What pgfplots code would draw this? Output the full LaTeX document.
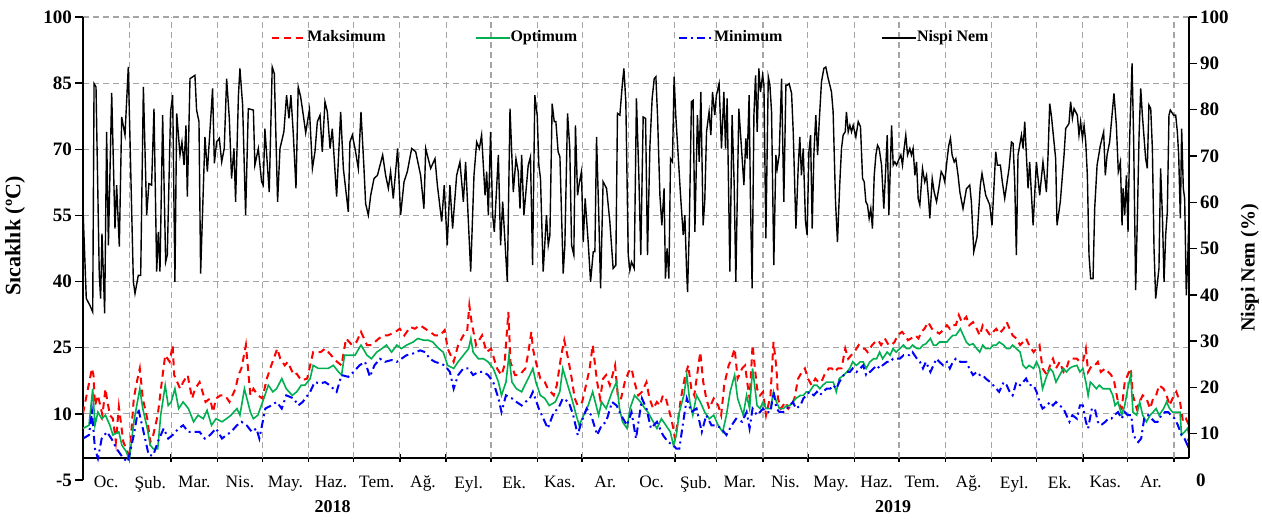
\documentclass[border=0pt]{standalone}
\usepackage{fontspec}
\setmainfont{Liberation Serif}
\usepackage{pgfplots}
\usepackage{pgfplotstable}
\pgfplotsset{compat=1.18}
\definecolor{optgreen}{RGB}{0,176,80}
\definecolor{gridgray}{RGB}{165,165,165}

\pgfplotstableread{
d v
0 10.1
6 20.3
7 18.8
8 11.9
10 14.2
13 9.7
15 15.7
16 13.5
18 9.7
20 8.9
22 3.6
24 11.6
27 3.6
29 2.1
31 -0.1
34 13.5
36 17.2
38 20.3
40 13.5
43 8.9
45 3.6
47 5.2
50 9.7
53 18
55 23.3
58 21.8
60 25.6
61 18.8
65 15.7
67 17.2
70 18.8
73 13.5
75 15.7
78 17.2
82 12.7
85 13.5
87 10.4
89 13.5
92 14.2
95 14.2
98 12.7
102 15.7
104 18.8
106 20.3
109 25.6
112 14.2
114 15.7
117 14.2
120 13.5
123 18
126 21
130 24.8
132 22.5
135 21
137 21.8
141 18.8
143 19.1
146 17.6
150 18
154 24
159 24
162 24.8
166 23.3
170 21.8
173 21
176 27.1
180 25.6
183 26.3
186 28.6
190 25.6
193 25.6
198 27.1
201 27.8
204 27.8
209 28.6
212 29.3
215 27.8
219 29.7
222 29.3
225.5 30.1
229 29.3
232 28.6
235.5 27.8
239 27.8
242 29
244 24.8
248 21.8
251 25.6
254.5 27.8
257 28.6
258.5 34.6
260 30.8
263 25.6
267 27.8
270 24
273 24.8
277 20.3
280 18.8
282 21
284.6 33.1
286 21.8
289 18.8
292 18.8
296 20.3
298 24
300 28.6
301 24.8
303 21.8
306 18
309 17.2
311 15.7
315 14.2
317 16.5
320 23.3
322 26.7
325 21.8
327 18
329 13.5
331 11.9
334 12.7
337 17.2
339 20.3
341 25.6
344 17.2
346 13.5
348 18
350 18.8
352.5 16.5
356 21
358 13.5
360 13.5
362.5 17.2
365 19.5
367 20.3
369 17.2
371.5 14.2
374 15
377 17.2
379 13.5
381.5 11.2
384 12.7
386 11.9
388 14.2
390 13.5
393 9.7
395 6.7
396 4.4
398 8.2
400 13.5
403 18.8
405 21
407 15.7
409 14.2
413 24
415 17.2
417 13.5
419 11.2
422 13.5
425 11.9
427 9.7
429 16.5
432 21
434 22.5
436 24.8
438 18
441 20.3
443 21
444.4 17.2
446 13.5
448 25.6
451 15.7
453 14.2
455 15
457 9.7
460 14.2
462 26.3
464 20.3
465 13.5
467 11.2
470 12.7
472 11.2
474 11.9
476 13.5
478.5 18
481 19.5
483 20.3
485 18
487.5 16.5
490 18
492 17.2
494 17.2
496 18.8
499 20.3
501 20.3
503 19.5
505 20.3
507.5 20.3
510 24.8
512 22.5
514 23.3
516 24
519 25.6
521 24.8
523 24.8
525 24
528 25.6
530 26.3
532 26.7
534 25.6
536.5 27.1
539 25.6
541 25.6
543 26.3
545 27.8
548 28.6
550 27.8
552 26.7
554 27.1
557 27.8
559 27.1
561 28.6
563 29.3
565.5 30.8
568 29.3
571 28.6
573 28.2
575.5 29
578 30.1
580 29.3
582 30.1
584 30.1
586 32.4
588 30.8
591 32
593 30.1
595.5 30.8
598 29.3
600 27.8
602 30.1
604 29.3
607 27.8
609 28.6
611 29.3
613 28.2
616 29.3
618 30.8
620 29.3
622 27.8
624.5 27.1
627 25.6
629 26.3
631 27.1
633 25.6
636 24
638 24.8
640 25.6
642 20.3
645 18.8
647 21
649 22.5
651 20.3
653.5 21.8
656 19.5
658 20.3
660 22.5
662 22.5
665 22.5
667 21.8
669 21.8
671 24.8
672.5 19.5
675 21
677 21
679 21.8
681 19.5
684 20.3
686 19.5
688 18.8
690 17.2
692.5 12.7
695 11.2
697 17.2
699 18.8
701 20.3
702.5 14.2
705 11.2
707 12.7
709 14.2
711.5 13.5
714 11.2
716 13.5
718 14.2
720 16.5
723 15.7
725 14.2
727 11.9
729 13.5
731.5 15
734 12.7
736 8.2
738 8.9
740 7.4
}\maxT

\pgfplotstableread{
d v
0 6.7
4 7.4
6.5 15.7
8 7.4
10 10.4
12.5 8.9
15 9.7
18 7.4
20 5.2
24 5.9
26 2.9
29 1.4
31 -0.5
34 8.2
38 15.7
40 11.2
43 6.7
45 2.9
47 2.1
50 2.1
52 9.7
55 16.5
57 11.9
59 12.7
61.5 15.7
64 11.2
67 12.7
70.5 11.2
74 8.2
77 9.7
80.5 8.9
83 10.8
86 7.4
89 8.9
93 8.2
96 8.9
99 9.7
103 11.2
105 9.7
108 15.7
112 10.4
114 8.9
117 9.7
121 13.5
124 16.5
127 15
129.5 15.7
133 18
136 15.7
140 14.2
143 15
146 16.5
148.5 16.5
152 18
154 21
157.5 20.3
161 20.3
164 20.3
167.5 21
171 19.5
173 18.8
175 23.3
179 23.3
182 23.3
186 25.6
190 23.3
193 22.5
196.5 24
200 24.8
203 25.6
206.5 24
210 25.6
213 24.8
216.5 25.6
221 26.3
224 27.1
228 26.7
231 26.7
234 26.3
238 24.8
241 24
244 21
248 20.3
251 21.8
254.5 23.3
258 24.8
259.5 27.1
261 24
264.5 22.5
268 22.5
271 21.8
274.5 20.3
278 17.2
280 14.2
283 17.2
285 23.3
287 17.2
290 15.7
293.5 15
295.6 16.5
299 18.8
301 20.3
303 17.2
306 14.2
309 13.5
312 11.9
316 12.7
319 15
321 20.3
325 15.7
327 13.5
330 9.7
332 7.4
335 9.7
338 11.9
341 15
345 9.7
347 12.7
350 11.2
354 15
357 17.2
359 11.2
361 8.2
364 6.7
366 11.2
369 14.2
373 12.7
376 11.2
378 10.4
381.5 8.2
384 6.7
387 8.9
390 7.4
393 5.9
395 2.9
397 5.2
399 10.4
402 14.2
404 18.8
406 12.7
408 9.7
410.5 14.2
413 12.7
416 10.4
419 8.9
422 9.7
425 7.4
428 5.9
430.5 9.7
433 15
436 18.8
438 13.5
441.7 9.7
444 14.2
446 11.2
448 20.3
451 11.9
453 11.2
455 12.7
457 11.2
460 11.2
462 15
464 12.7
466 11.2
468.5 11.2
471 11.9
473 11.9
475 12.7
477 13.5
480 14.2
482 14.2
484 15
486 15
489 16.5
491 16.5
493 15.7
495 16.5
497.5 17.2
500 17.2
502 17.2
504 15
506 18
509 18.8
511 19.5
513 20.3
515 21.8
517.5 21
520 21.8
522 21.8
524 20.3
526.5 21.8
529 22.5
531 22.5
533 24
535 22.5
538 24
540 23.3
542 24.8
544 24
546.5 24.8
549 25.6
551 24.8
553 24.8
555 25.6
558 24.8
560 24.8
562 25.6
564 25.9
567 27.1
569 25.6
571 25.6
573 26.3
575.5 26.3
578 26.3
580 27.1
582 27.8
584 27.8
587 29.3
589 27.8
591 26.3
593 25.6
595.5 25.9
598 24.8
600 24
602 25.6
604 24.8
607 24.8
609 25.6
611 25.6
613 26.3
616 25.6
618 24.8
620 24.8
622 25.6
624.5 24.8
627 24
629 21
631 20.3
633 21
636 20.3
638 21.8
640 20.3
642 15.7
645 18.8
647 20.3
649 19.5
651 17.2
653.5 18.8
656 20.3
658 19.5
660 20.3
662 20.7
665 21
667 19.5
669 20.3
671 17.2
672.5 14.2
674 17.2
676 16.5
678 15.7
680 16.5
682.5 15.7
685 15.7
687 15.7
689 14.2
690.5 11.9
692.5 12.7
695 9.7
697 11.9
699 15.7
701 18.8
702.5 10.4
705 9.7
707 12.7
709 9.7
711.5 8.2
714 9.7
716 10.4
718 11.2
720 9.7
723 11.2
725 12.7
727 11.2
729 10.4
731.5 10.4
734 10.4
735 5.2
737 5.9
739 6.7
740 5.2
}\optT

\pgfplotstableread{
d v
0 4.4
4 5.2
6 10.4
8 2.1
10 -0.1
12.5 4.4
16 5.9
19 4.4
22.5 2.1
27 -0.1
30 -0.9
34 5.2
37 11.2
40 6.7
44 0.6
47 0.6
50 3.6
54 6.7
57 4.4
60 5.2
64 6.7
67 7.4
70.5 5.9
75 5.9
78 5.9
81.5 4.4
85 5.2
89 6.7
93 4.4
96 5.2
99 5.9
103 7.4
106 8.2
109.5 7.4
113 5.9
116 6.7
118 4.4
122 11.2
126 11.9
129.5 12.7
133 11.2
136 14.2
141 13.5
144 11.9
147 12.7
152 15
155 17.2
158.6 16.9
162 17.2
165 16.5
169.7 15
173 18.8
177.5 18.4
181 19.5
185 21
188.7 21.8
192 18.4
195 21
198.7 22.5
202 21.8
206.5 22.2
210 21.8
213 22.5
216.5 23.3
221 23.7
225.5 24.4
229 24
232 22.5
235.5 21.8
239 21.4
242 21
245.5 19.5
248 15.7
251 18.8
254.5 20.3
258 20.3
261 18.8
264.5 19.5
268 19.5
271 18.8
274.5 17.2
278 13.5
280 10.4
283 14.2
287 13.5
290 12.7
293.5 11.9
296 12.7
299 13.5
301 15
305 11.2
309 8.2
311 6.7
315 10.4
318 11.2
321 13.5
325 12.7
328 9.7
331 5.2
333.5 8.2
337 11.2
340 9.7
344 5.2
347 7.4
350 8.2
354 12.7
357 11.9
360 9.7
364 7.4
367 10.4
370 4.4
374 13.5
377 11.2
380 6.7
384 8.2
388 5.2
391.5 3.6
395 2.9
397 2.1
399 2.1
401.6 8.2
404 13.5
407 10.4
410.5 11.2
414 5.9
417 9.7
420.5 7.4
424 7.4
427 6.7
430.5 5.2
434 7.4
437 8.9
441 8.2
444 10.4
446 6.7
448 11.2
451 9.7
453 10.4
455 11.2
457 10.4
460 10.4
462 15
464 11.2
466 10.4
468.5 10.4
471 11.2
473 11.9
475 12.7
477 11.2
480 11.9
482 13.5
484 14.2
486 15
489 14.2
491 15
493 14.2
495 15
497.5 15.7
500 15.7
502 16.5
504 15.7
506 17.2
509 18.8
511 19.5
513 19.5
515 20.3
517.5 19.5
520 20.3
522 21
524 18.8
526.5 19.5
529 20.3
531 21
533 20.3
535 21
538 21.8
540 21.8
542 22.5
544 22.5
546.5 22.5
549 23.3
551 23.3
553 23.3
555 24
558 22.5
560 21.8
562 20.3
564 21.8
567 19.5
569 21
571 22.5
573 21.8
575.5 21
578 21.8
580 20.3
582 21.8
584 22.5
587 21.8
589 21.8
591 21.8
593 20.3
595.5 18.8
598 19.5
600 18.8
602 18.8
604 18
607 17.2
609 16.5
611 15.7
613 15
616 17.2
618 16.5
620 15
622 14.2
624.5 17.2
627 16.5
629 17.2
631 18
633 16.5
636 16.5
638 15
640 12.7
642 11.2
645 11.9
647 12.7
649 11.9
651 12.7
653.5 11.9
656 11.2
658 9.7
660 8.2
662 9.7
665 8.9
667 11.9
669 11.9
671 8.2
672.5 6.7
675 11.2
677 11.2
679 8.2
681 7.4
684 8.2
686 8.9
688 8.9
690 9.7
692.5 10.4
695 8.9
697 10.4
699 9.7
701.4 9.7
702.5 5.9
704 4.4
706 3.6
708 4.4
710 8.9
712.6 9.7
715 8.9
717 8.2
719 8.2
721.5 9.7
724 10.4
726 10.4
728 9.7
730.4 8.9
732.6 7.4
735 5.2
737 4.4
739 2.9
740 5.2
}\minT

\pgfplotstableread{
d v
0 58.6
2.2 39.2
4.5 37.8
6.5 36.3
7.4 85.6
8.7 84.9
10.9 44.2
11.8 39.2
12.7 53.2
14.5 36
15.8 75.2
17 50.7
19.2 83.6
21.4 54.3
22.5 63.7
24.3 50.4
25.9 78.4
28.1 74.5
30.3 89.2
33.7 42.8
34.8 40.3
37 44.2
38.6 44.2
40.4 84.9
42.6 57.2
44.1 64
45.9 63.7
47.5 80.2
49.3 45
50.4 53.6
51.5 45
53.3 78.8
55.3 47.1
56.4 48.6
58.6 79.5
60 83.1
61.5 42.8
62.7 79.2
64.9 70.2
66.2 73
67.6 68
68.9 76.6
69.8 61.2
71.6 86.7
74.9 87.4
76 79.9
77.6 77.4
78.7 44.6
81.6 74.1
83.2 66.6
85.6 78.8
86.7 84.6
87.9 68.4
89.4 73
91.2 73.8
92.8 68.7
94.5 71.6
96.1 86.7
97.9 78.1
99.4 65.1
101 71.6
102.1 60.1
104 83.1
105 88.9
106.8 81
108.8 57.2
110.6 80.2
114 79.9
115 68
117.3 71.6
119.5 64.4
120.6 63.7
121.7 75.9
124.6 62.2
126.6 89.2
128 87.8
130.2 60.1
131.8 71.6
134.4 75.2
136.2 83.1
137.8 78.1
139.1 83.1
140.7 74.8
142.5 63
144 84.9
145.6 82.8
147.4 78.8
149 75
151.5 80
153.5 67.3
155.2 70.9
156.8 77.4
158.6 78.8
160.1 70.9
161.9 81.7
163.5 79.5
165.3 71.6
166.8 75.9
169.7 61.2
172.4 79.5
174.2 67.3
175.7 63
177.5 57.9
178.6 73
180.2 74.5
182 71.6
184.2 67.3
186 79.5
188 67.3
189.1 59.7
190.9 57.2
192.5 61.5
194.7 65.1
197 65.8
200.5 70.2
202.5 65.8
204.3 63
205.8 66.6
207.6 60.8
210.5 71.6
212.5 57.2
214.8 64.4
217 66.6
219.9 71.6
222.6 70.9
225.9 65.8
228.1 58.6
229.3 71.6
232.6 67.3
235.5 69.4
237.1 63.7
240 55.8
241.7 63.7
243.7 50.7
245.5 63.7
247.3 54.3
250 65.8
252.2 68.7
254.5 60.1
256 68.7
259.4 45
261.6 65.8
263.4 73
265.2 71.6
266.7 74.5
269 61.5
270.1 66.6
271.2 57.2
272.7 75.2
274.1 57.2
275.2 53.6
277.9 70.2
279.4 50.7
280.8 60.1
283.9 42.8
285.7 80.2
287.9 62.2
289.7 69.4
291.2 66.6
292.4 58.6
293.5 70.2
295 57.2
297.9 68
299.4 69.8
300.8 46.4
302.3 83.1
303.9 78.8
305 68
306.1 65.1
307.9 45
310.1 57.2
311.3 50.7
312.4 52.9
313.9 81.3
315.3 77.4
316.4 77.4
317.9 70.9
319.1 69.8
321.3 44.6
322.4 50.7
324.2 79.2
325.7 71.6
326.9 50.7
328.4 48.6
329.5 76.6
330.9 61.5
332 64
333.5 66.6
334.7 51.4
336 60.8
336.9 56.5
338 51.4
339.6 42.8
341.4 49.3
342.5 49.3
343.6 74.1
345.1 57.2
346.3 41.4
348 64.4
350.3 63
352.5 55.8
354.7 45.7
356.5 46.4
357.6 79.2
359.2 78.8
361 86
361.9 88.9
363.2 81.7
364.8 48.6
365.9 45.3
367 47.1
368.8 45.7
370.3 82.4
371.9 65.8
373.2 48.6
374.8 78.4
376.4 78.1
377.7 48.6
379.3 72
380.8 82.4
382.2 86.7
383.3 87.1
384.4 78.8
386 61.5
387.3 55
388.8 63
389.7 43.5
390.8 50
392 43.5
393.1 69.4
394.4 68.7
395.5 87.1
396.6 78.8
398.2 70.2
399.8 61.5
401.6 52.9
402.7 57.2
403.8 45.7
404.5 40.6
405.6 53.6
407.1 81.7
408.2 82
409.4 53.6
411.1 78.8
412.3 68.7
413.4 83.8
414.9 55
416 60.1
417.2 75.2
418.9 79.5
420.1 74.5
421.2 83.8
422.7 78.8
423.8 83.1
425.6 85.6
427.2 71.6
428.8 83.8
429.9 71.6
431 82.4
432.8 45
434.3 78.8
435.7 63.7
436.8 42.8
438.8 80.2
440.6 71.6
442.2 63.7
443.5 73.8
444.4 69.4
445.7 83.1
446.6 60.1
447.7 41.4
448.9 78.8
450 87.4
451.1 75.2
452.2 88.9
453.3 83.8
454.7 87.4
455.6 85.3
456.9 52.2
458.5 87.1
459.6 85.3
460.7 79.5
462.2 46.4
463.6 70.2
464.5 67.3
465.8 70.2
467.4 86.7
468.9 60.1
470.3 85.3
471.4 85.3
472.5 85.6
474.1 83.5
475.2 75.2
477 54.3
478.5 67.3
479.6 74.1
480.7 65.8
481.9 71.6
483.4 55.8
484.5 52.9
485.7 70.9
486.8 74.5
487.9 54.3
489 70.2
490.3 78.8
491.5 70.2
492.6 77.4
494.1 86
495.7 88.9
497 89.2
498.6 86.7
499.7 85.3
500.8 83.8
501.9 79.5
503.5 60.1
504.8 51.4
506.4 64.4
507.5 71.6
508.6 74.5
510 75.2
510.8 79.5
512 75.2
513.1 76.6
514.2 75.2
515.3 76.6
517.1 74.1
518.7 77.4
520.2 76.3
521.6 65.1
522.7 64.4
523.8 60.1
524.9 59.4
526 56.5
527.1 58.6
528.2 54.3
529.4 65.8
530.5 70.2
531.6 72.3
532.7 71.6
534.3 68
535.8 58.6
537 66.6
538.1 74.5
539.2 57.2
541 76.6
542.1 68
543.2 68.7
544.3 68
546.1 69.4
547.2 70.2
548.3 68
549.4 71.6
550.5 74.5
551.7 70.2
553.2 71.6
554.3 70.2
555.4 71.6
556.6 65.8
557.7 68.7
558.8 60.8
559.9 59.4
561.7 67.3
563.2 64.4
564.4 65.8
565.9 60.1
566.6 56.5
568.2 65.1
569.5 62.2
571.1 60.1
572.6 63
574.2 66.6
575.5 65.8
576.6 64.4
578.2 69.4
579.3 72.3
580.4 73.8
581.5 70.2
582.9 68.7
584 69.4
585.5 65.8
586.7 62.2
588.8 58.6
591.1 62.9
593.3 63.7
594.4 60.1
596 49.3
598.2 52.5
600.4 63.7
601.5 66.2
604 61.5
606.7 59.4
608.2 55
610.7 70.9
611.8 68
613.8 68
615.1 64.4
616.7 60.8
619.6 67.3
621.2 73
622.3 72.7
623.4 64.4
624.5 48.6
625.6 70.2
627.9 74.5
629 71.6
630.1 77.4
632.3 63
633.4 68.7
635.7 55
637.9 68.7
640.1 61.5
642.3 68.7
644.6 62.2
645.7 70.2
646.8 81.3
647.9 78.8
650.8 69.4
651.7 55
653.9 60.1
656.4 70.2
657.5 75.9
659.7 77
660.8 81.7
662 78.1
663.1 80.2
665.3 78.8
666.4 74.5
667.5 77.4
668.7 73.8
669.8 76.6
670.9 73
672 65.8
673.1 48.6
674.2 43.5
675.8 43.5
676.9 58.6
678.5 68
680.7 72.3
682.9 75.2
684 65.8
685.2 70.2
686.9 73
689.8 83.5
691.4 76.6
692.7 66.6
694.1 68.7
695.2 55
695.9 63
697 57.2
698.1 65.8
699.2 53.6
700.3 73.8
701.9 90
703 73
704.3 41
705.4 55.8
706.6 74.5
707.7 84.6
708.8 78.8
711 69.4
712.1 67.3
713.2 81
714.4 80.2
715.5 71.6
716.6 50
717.7 39.2
719.9 45.7
721 67.3
722.2 57.2
723.3 42.8
724.4 52.9
725.5 57.9
726.6 78.8
727.5 79.9
729.7 78.8
731.1 78.8
732.2 75.2
733.1 70.2
734.2 56.5
735.1 75.9
736.2 63
737.1 60.8
738.2 39.9
739.3 49.3
740 57.2
}\humT

\begin{document}
\begin{tikzpicture}
\path[use as bounding box] (-41.5pt,-20.5pt) rectangle (589.5pt,240pt);
\begin{axis}[
  at={(0,0)}, anchor=south west,
  scale only axis, width=553pt, height=231.5pt,
  xmin=0, xmax=740, ymin=-5, ymax=100,
  clip mode=individual,
  axis x line=middle, axis y line*=left,
  axis line style={-, line width=0.7pt, black},
  tick align=center, major tick length=4pt,
  every tick/.style={black, line width=0.7pt},
  xtick={31,59,90,120,151,181,212,243,273,304,334,365,396,424,455,485,516,546,577,608,638,669,699,730},
  xticklabels={,,,,,,,,,,,,,,,,,,,,,,,,},
  extra x ticks={15.5,45,74.5,105,135.5,166,196.5,227.5,258,288.5,319,349.5,380.5,410,439.5,470,500.5,531,561.5,592.5,623,653.5,684,714.5},
  extra x tick labels={Oc.,Şub.,Mar.,Nis.,May.,Haz.,Tem.,Ağ.,Eyl.,Ek.,Kas.,Ar.,Oc.,Şub.,Mar.,Nis.,May.,Haz.,Tem.,Ağ.,Eyl.,Ek.,Kas.,Ar.},
  extra x tick style={grid=none, major tick length=0pt},
  xticklabel style={font=\fontsize{8.7}{10}\selectfont, yshift=-5.5pt},
  ytick={10,25,40,55,70,85,100},
  extra y ticks={-5},
  extra y tick style={grid=none},
  ytick style={xshift=-2pt},
  ymajorgrids,
  major grid style={gridgray, dash pattern=on 3pt off 2pt, line width=0.6pt},
  yticklabel style={font=\bfseries\fontsize{9.5}{11}\selectfont},
  /pgf/number format/assume math mode=true,
  legend columns=4,
  legend cell align=left,
  legend style={draw=none, fill=none, at={(rel axis cs:0.1644,0.955)}, anchor=west,
    font=\bfseries\fontsize{8}{10}\selectfont,
    /tikz/every odd column/.append style={column sep=6pt}},
]
\pgfplotsinvokeforeach{31,59,90,120,151,181,212,243,273,304,334,365,396,424,455,485,516,546,577,608,638,669,699,730}{
  \draw[gridgray, dash pattern=on 3pt off 2pt, line width=0.6pt] (axis cs:#1,0) -- (axis cs:#1,100);
}
\addplot[red, line width=1pt, dash pattern=on 3.5pt off 2.5pt] table[x=d,y=v] {\maxT};
\addlegendentry{\hspace*{-8pt}\makebox[81.7pt][l]{Maksimum}}
\addplot[optgreen, line width=0.8pt] table[x=d,y=v] {\optT};
\addlegendentry{\hspace*{-8pt}\makebox[81.7pt][l]{Optimum}}
\addplot[blue, line width=1pt, dash pattern=on 4pt off 2pt on 1pt off 2pt] table[x=d,y=v] {\minT};
\addlegendentry{\hspace*{-8pt}\makebox[81.7pt][l]{Minimum}}
\addlegendimage{black, line width=0.7pt}
\addlegendentry{\hspace*{-8pt}Nispi Nem}
\node[rotate=90, font=\bfseries\fontsize{11}{13}\selectfont] at (rel axis cs:-0.0615,0.527) {Sıcaklık (ºC)};
\node[font=\bfseries\fontsize{9}{11}\selectfont] at (axis cs:167,-11.1) {2018};
\node[font=\bfseries\fontsize{9}{11}\selectfont] at (axis cs:542,-11.1) {2019};
\end{axis}
\begin{axis}[
  at={(0,0)}, anchor=south west,
  scale only axis, width=553pt, height=231.5pt,
  xmin=0, xmax=740, ymin=0, ymax=100,
  clip mode=individual,
  axis x line=none, axis y line*=right,
  y axis line style={draw=none},
  xtick=\empty,
  tick align=center, major tick length=4pt,
  every tick/.style={black, line width=0.7pt},
  ytick={10,20,...,100},
  extra y ticks={0},
  extra y tick style={major tick length=0pt},
  ytick style={xshift=2pt},
  yticklabel style={font=\bfseries\fontsize{9.5}{11}\selectfont},
  /pgf/number format/assume math mode=true,
]
\draw[black, line width=0.7pt] (axis cs:740,4.75) -- (axis cs:740,100);
\addplot[black, line width=0.7pt] table[x=d,y=v] {\humT};
\node[rotate=90, font=\bfseries\fontsize{10}{12}\selectfont] at (rel axis cs:1.055,0.458) {Nispi Nem (\%)};
\end{axis}
\end{tikzpicture}
\end{document}
